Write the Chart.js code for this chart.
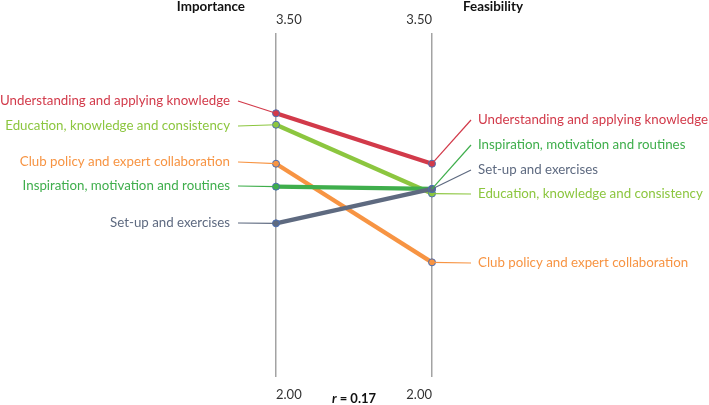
<!DOCTYPE html>
<html>
<head>
<meta charset="utf-8">
<script src="https://cdn.jsdelivr.net/npm/chart.js@4.4.1/dist/chart.umd.min.js"></script>
<style>
  html, body { margin: 0; padding: 0; background: #fff; }
  .chart-container { position: relative; width: 709px; height: 405px; }
</style>
</head>
<body>
<div class="chart-container">
  <canvas id="chart"></canvas>
</div>
<script>
// series, drawn top-most first
const seriesNames = [
  'Set-up and exercises',
  'Inspiration, motivation and routines',
  'Understanding and applying knowledge',
  'Education, knowledge and consistency',
  'Club policy and expert collaboration'
];
const importance = [2.67, 2.83, 3.15, 3.10, 2.93];
const feasibility = [2.82, 2.82, 2.93, 2.80, 2.50];
const seriesColors = ['#5e6a80', '#3fae4c', '#d23a4a', '#8cc63f', '#f79443'];

const axisMin = 2.0;
const axisMax = 3.5;
const axisTitles = ['Importance', 'Feasibility'];
const correlation = '0.17';

// label placement (pixels) for the left and right label columns
const leftLabelY = [223, 186, 101, 126, 162];
const rightLabelY = [170, 145, 120, 194, 263];

const FONT = 'Lato, "Open Sans", sans-serif';

const labelPlugin = {
  id: 'slopeLabels',
  afterDatasetsDraw(chart) {
    const ctx = chart.ctx;
    const xs = chart.scales.x;
    const ys = chart.scales.y;
    const x0 = xs.getPixelForValue(0);
    const x1 = xs.getPixelForValue(1);
    const top = ys.getPixelForValue(axisMax);
    const bottom = ys.getPixelForValue(axisMin);
    ctx.save();

    // connectors and labels
    ctx.font = '13.3px ' + FONT;
    ctx.textBaseline = 'middle';
    seriesNames.forEach((name, i) => {
      const c = seriesColors[i];
      const py0 = ys.getPixelForValue(importance[i]);
      const py1 = ys.getPixelForValue(feasibility[i]);
      ctx.strokeStyle = c;
      ctx.lineWidth = 1.2;
      ctx.beginPath();
      ctx.moveTo(x0 - 38, leftLabelY[i]);
      ctx.lineTo(x0, py0);
      ctx.stroke();
      ctx.beginPath();
      ctx.moveTo(x1, py1);
      ctx.lineTo(x1 + 39, rightLabelY[i]);
      ctx.stroke();
      ctx.fillStyle = c;
      ctx.textAlign = 'right';
      ctx.fillText(name, x0 - 46, leftLabelY[i]);
      ctx.textAlign = 'left';
      ctx.fillText(name, x1 + 46, rightLabelY[i]);
    });

    // axis end values
    ctx.fillStyle = '#333';
    ctx.font = '13px ' + FONT;
    ctx.textAlign = 'left';
    ctx.fillText(axisMax.toFixed(2), x0, top - 13);
    ctx.fillText(axisMin.toFixed(2), x0, bottom + 18);
    ctx.textAlign = 'right';
    ctx.fillText(axisMax.toFixed(2), x1, top - 13);
    ctx.fillText(axisMin.toFixed(2), x1, bottom + 18);

    // axis titles
    ctx.fillStyle = '#111';
    ctx.font = 'bold 13.4px ' + FONT;
    ctx.textAlign = 'right';
    ctx.fillText(axisTitles[0], x0 - 31, 7);
    ctx.textAlign = 'left';
    ctx.fillText(axisTitles[1], x1 + 31, 7);

    // correlation
    const mid = (x0 + x1) / 2;
    ctx.font = 'bold 13px ' + FONT;
    const rest = ' = ' + correlation;
    const wRest = ctx.measureText(rest).width;
    ctx.font = 'italic bold 13px ' + FONT;
    const wR = ctx.measureText('r').width;
    const start = mid - (wR + wRest) / 2;
    ctx.textAlign = 'left';
    ctx.fillText('r', start, bottom + 22);
    ctx.font = 'bold 13px ' + FONT;
    ctx.fillText(rest, start + wR, bottom + 22);
    ctx.restore();
  }
};

new Chart(document.getElementById('chart'), {
  type: 'line',
  data: {
    datasets: seriesNames.map((name, i) => ({
      label: name,
      data: [{ x: 0, y: importance[i] }, { x: 1, y: feasibility[i] }],
      borderColor: seriesColors[i],
      backgroundColor: seriesColors[i],
      borderWidth: 4.3,
      pointRadius: 3.5,
      pointBorderWidth: 1,
      pointBorderColor: '#4a6db3',
      pointBackgroundColor: seriesColors[i],
      clip: false
    }))
  },
  options: {
    responsive: true,
    maintainAspectRatio: false,
    animation: false,
    layout: { padding: { left: 276, right: 277, top: 33, bottom: 28 } },
    plugins: { legend: { display: false }, tooltip: { enabled: false } },
    scales: {
      x: {
        type: 'linear',
        min: 0,
        max: 1,
        ticks: { display: false, stepSize: 1 },
        grid: { color: '#a3a3a3', lineWidth: 1.5, drawTicks: false },
        border: { display: false }
      },
      y: {
        min: axisMin,
        max: axisMax,
        display: false
      }
    }
  },
  plugins: [labelPlugin]
});
</script>
</body>
</html>
